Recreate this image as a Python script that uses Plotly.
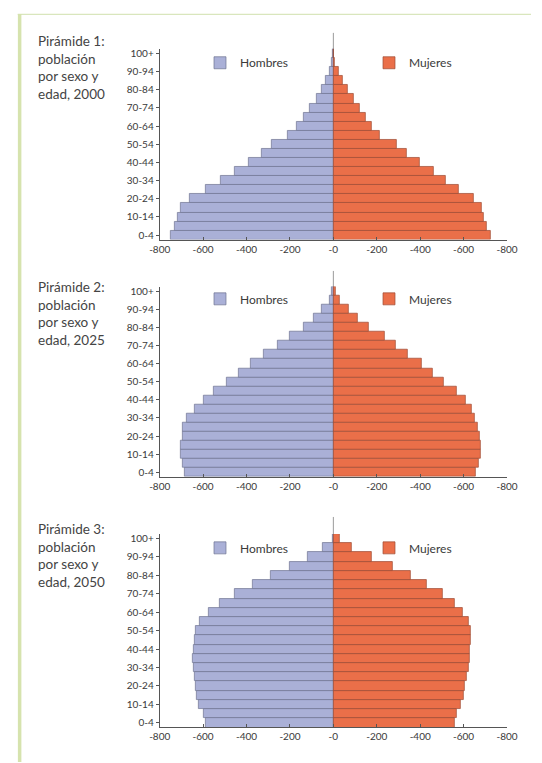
import plotly.graph_objects as go

ages = ["0-4", "5-9", "10-14", "15-19", "20-24", "25-29", "30-34", "35-39",
        "40-44", "45-49", "50-54", "55-59", "60-64", "65-69", "70-74", "75-79",
        "80-84", "85-89", "90-94", "95-99", "100+"]

hombres_2000 = [748, 730, 716, 704, 660, 586, 517, 454, 392, 330, 285, 209, 170, 138, 107, 79, 55, 33, 16, 6, 2]
mujeres_2000 = [725, 708, 694, 685, 647, 579, 516, 460, 396, 340, 290, 215, 177, 150, 121, 93, 67, 42, 25, 8, 2]

hombres_2025 = [683, 696, 705, 705, 696, 693, 676, 639, 599, 551, 490, 436, 382, 319, 257, 201, 136, 90, 52, 17, 6]
mujeres_2025 = [658, 670, 678, 680, 675, 667, 651, 636, 611, 566, 507, 456, 405, 344, 289, 237, 162, 112, 70, 30, 12]

hombres_2050 = [587, 599, 621, 631, 636, 640, 643, 646, 643, 640, 633, 617, 572, 525, 455, 371, 290, 201, 117, 51, 1]
mujeres_2050 = [559, 569, 588, 602, 606, 614, 622, 628, 630, 631, 632, 624, 595, 561, 502, 431, 358, 273, 176, 85, 30]

titulos = ["Pirámide 1:<br>población<br>por sexo y<br>edad, 2000",
           "Pirámide 2:<br>población<br>por sexo y<br>edad, 2025",
           "Pirámide 3:<br>población<br>por sexo y<br>edad, 2050"]

x_ticks = [-800, -600, -400, -200, 0, 200, 400, 600, 800]
x_ticktext = ["-800", "-600", "-400", "-200", "-0", "-200", "-400", "-600", "-800"]

W, H = 542, 763
FONT = "Lato"
MALE = "#aab0d7"
FEMALE = "#ea6f49"
MALE_LINE = "#6f7390"
FEMALE_LINE = "#9c4a33"
TXT = "#3a3a3a"

def px_x(p):
    return p / W

def px_y(p):
    return 1 - p / H

# pixel geometry of each pyramid: (top of bars, bottom axis, top of zero line, title top, legend center)
panels = [
    (47.0, 238.5, 31.0, 29.0, 61.0),
    (285.7, 476.7, 270.0, 276.0, 298.0),
    (534.0, 728.3, 517.0, 519.0, 548.0),
]
x_left, x_right = 155.0, 517.0

data_sets = [(hombres_2000, mujeres_2000), (hombres_2025, mujeres_2025), (hombres_2050, mujeres_2050)]

fig = go.Figure()
layout = dict(
    width=W, height=H, autosize=False,
    margin=dict(l=0, r=0, t=0, b=0),
    paper_bgcolor="white", plot_bgcolor="white",
    barmode="relative", bargap=0,
    font=dict(family=FONT, color=TXT),
    annotations=[], shapes=[],
)

for i, ((hom, muj), (ytop, ybot, yline, ytitle, yleg)) in enumerate(zip(data_sets, panels)):
    n = "" if i == 0 else str(i + 1)
    leg = "legend" + n
    fig.add_trace(go.Bar(
        y=ages, x=[-v for v in hom], orientation="h", name="Hombres",
        marker=dict(color=MALE, line=dict(color=MALE_LINE, width=0.7)),
        xaxis="x" + n, yaxis="y" + n, legend=leg, showlegend=True,
    ))
    fig.add_trace(go.Bar(
        y=ages, x=muj, orientation="h", name="Mujeres",
        marker=dict(color=FEMALE, line=dict(color=FEMALE_LINE, width=0.7)),
        xaxis="x" + n, yaxis="y" + n, legend=leg, showlegend=True,
    ))
    layout["xaxis" + n] = dict(
        domain=[px_x(x_left), px_x(x_right)], range=[-800, 800],
        anchor="y" + n, tickvals=x_ticks, ticktext=x_ticktext,
        showline=True, linecolor="#555", linewidth=1,
        ticks="inside", ticklen=3, tickcolor="#555",
        showgrid=False, zeroline=False, fixedrange=True,
        tickfont=dict(size=10, color=TXT, family=FONT),
    )
    layout["yaxis" + n] = dict(
        domain=[px_y(ybot), px_y(ytop)], type="category",
        categoryorder="array", categoryarray=ages, range=[-0.5, 20.5],
        anchor="x" + n, tickvals=ages[::2], ticktext=ages[::2],
        showline=True, linecolor="#555", linewidth=1,
        ticks="outside", ticklen=3, tickcolor="#555",
        showgrid=False, zeroline=False, fixedrange=True,
        tickfont=dict(size=10, color=TXT, family=FONT),
    )
    layout[leg] = dict(
        orientation="h", x=px_x(197), y=px_y(yleg), xanchor="left", yanchor="middle",
        font=dict(size=12, color=TXT, family=FONT), bgcolor="rgba(0,0,0,0)",
        entrywidth=124, entrywidthmode="pixels", itemclick=False, itemdoubleclick=False,
        traceorder="normal",
    )
    layout["annotations"].append(dict(
        text=titulos[i], xref="paper", yref="paper", x=px_x(26), y=px_y(ytitle),
        xanchor="left", yanchor="top", align="left", showarrow=False,
        font=dict(size=13.5, color="#444", family=FONT),
    ))
    layout["shapes"].append(dict(
        type="line", xref="x" + n, yref="paper", x0=0, x1=0,
        y0=px_y(ybot), y1=px_y(yline), line=dict(color="#9a9a9a", width=1), layer="below",
    ))

# light green page frame
layout["shapes"].append(dict(type="line", xref="paper", yref="paper", x0=px_x(7), x1=1,
                             y0=px_y(12.5), y1=px_y(12.5), line=dict(color="#d9e6bd", width=1.2)))
layout["shapes"].append(dict(type="line", xref="paper", yref="paper", x0=px_x(9), x1=px_x(9),
                             y0=px_y(12), y1=0, line=dict(color="#d6e3ae", width=3.5)))

fig.update_layout(**layout)

post = ("document.documentElement.style.margin='0';document.documentElement.style.padding='0';"
        "document.body.style.margin='0';document.body.style.padding='0';"
        "document.body.style.overflow='hidden';")
fig.write_html("out.html", config={"displayModeBar": False, "responsive": False},
               post_script=post)
